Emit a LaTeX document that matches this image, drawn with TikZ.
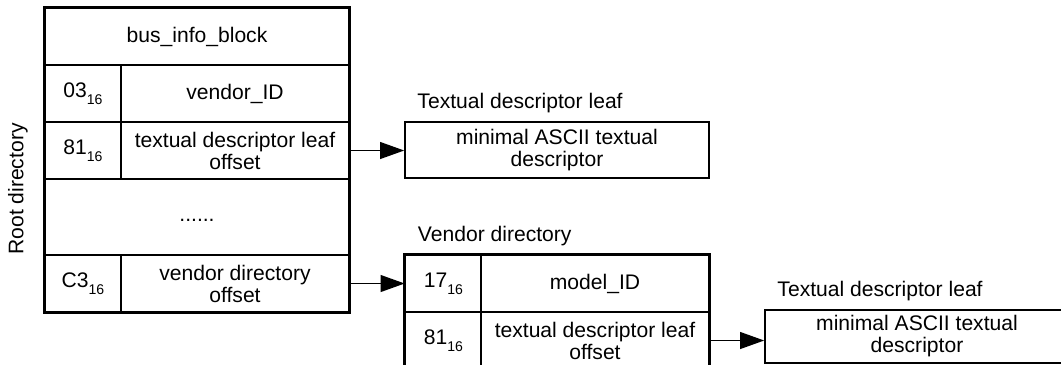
\documentclass[tikz,border=0pt]{standalone}
\usepackage{fontspec}
\setmainfont{Liberation Sans}
\usetikzlibrary{positioning,arrows.meta,fit,calc}
\newcommand{\hexval}[2]{#1\raisebox{-5pt}{\fontsize{10}{10}\selectfont #2}}

\begin{document}
\begin{tikzpicture}[
  x=0.025cm, y=-0.025cm,
  font=\fontsize{15}{15.6}\selectfont,
  cell/.style={rectangle,draw,line width=1.2pt,inner sep=2pt,align=center,minimum height=1.425cm},
  keycell/.style={cell,minimum width=1.9cm},
  valcell/.style={cell,minimum width=5.7cm},
  widecell/.style={cell,minimum width=7.6cm},
  dirbox/.style={rectangle,draw,line width=2.2pt,inner sep=0pt},
  leafbox/.style={rectangle,draw,line width=1.1pt,align=center,minimum width=7.6cm,inner sep=2pt},
  lbl/.style={inner sep=0pt,anchor=west},
  arr/.style={-{Triangle[length=0.6cm,width=0.42cm]},line width=1.1pt},
]
\useasboundingbox (0,0) rectangle (1061,364);
\clip (0,0) rectangle (1061,364);

% === Root directory ===
\node[widecell] (hdr) at (197,36.5) {bus\_info\_block};
\node[keycell] (k1) at (83,93.5)  {\hexval{03}{16}};
\node[valcell] (v1) at (235,93.5) {vendor\_ID};
\node[keycell] (k2) at (83,150.5)  {\hexval{81}{16}};
\node[valcell] (v2) at (235,150.5) {textual descriptor leaf\\offset};
\node[widecell,minimum height=1.9cm,text height=6pt,text depth=0pt] (dots) at (197,217) {......};
\node[keycell] (k3) at (83,283.5)  {\hexval{C3}{16}};
\node[valcell] (v3) at (235,283.5) {vendor directory\\offset};
\node[dirbox,fit=(hdr)(v3)] (root) {};
\node[rotate=90] (rootlbl) at (18,189) {Root directory};

% === Textual descriptor leaf (root) ===
\node[leafbox,minimum height=1.4cm] (leafA) at (557,150) {minimal ASCII textual\\descriptor};
\node[lbl] (leafAlbl) at ($(leafA.north west)+(13,-18)$) {Textual descriptor leaf};

% === Vendor directory ===
\node[keycell] (vk1) at (443.5,283.5) {\hexval{17}{16}};
\node[valcell] (vv1) at (595,283.5)   {model\_ID};
\node[keycell] (vk2) at (443.5,340.5) {\hexval{81}{16}};
\node[valcell] (vv2) at (595,340.5)   {textual descriptor leaf\\offset};
\node[dirbox,fit=(vk1)(vv2)] (vendor) {};
\node[lbl] (vendorlbl) at ($(vk1.north west)+(13,-18)$) {Vendor directory};

% === Textual descriptor leaf (vendor) ===
\node[leafbox,minimum height=1.325cm] (leafB) at (917,336.5) {minimal ASCII textual\\descriptor};
\node[lbl] (leafBlbl) at ($(leafB.north west)+(13,-18)$) {Textual descriptor leaf};

% Offsets
\draw[arr] (v2.east) -- (v2.east -| leafA.west);
\draw[arr] (v3.east) -- (v3.east -| vk1.west);
\draw[arr] (vv2.east) -- (vv2.east -| leafB.west);

\end{tikzpicture}
\end{document}
